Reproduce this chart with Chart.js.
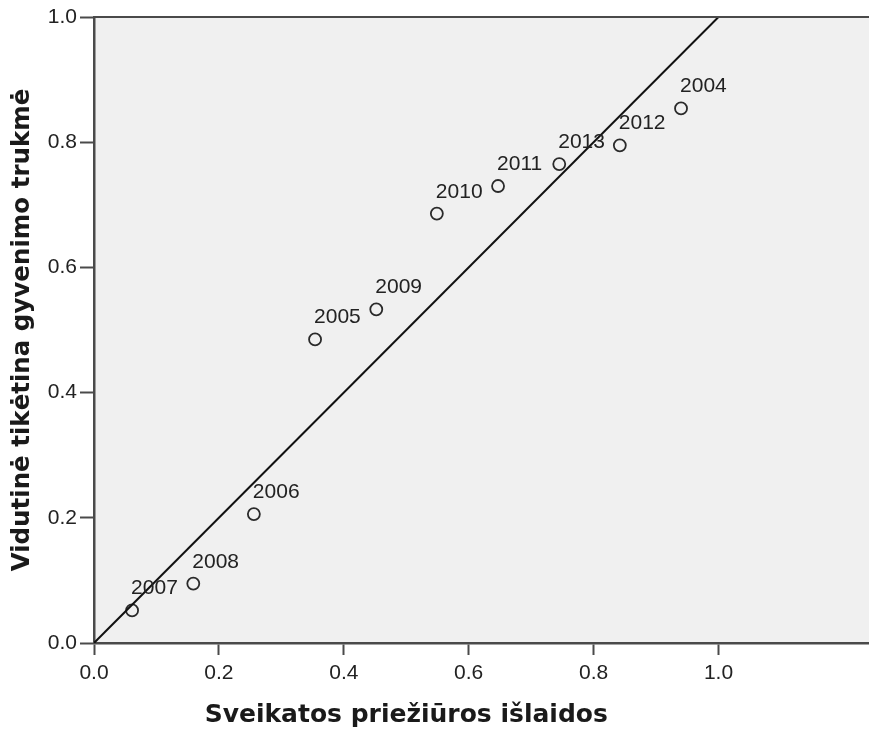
<!DOCTYPE html>
<html>
<head>
<meta charset="utf-8">
<script src="https://cdn.jsdelivr.net/npm/chart.js@4/dist/chart.umd.min.js"></script>
<style>
  html, body { margin: 0; padding: 0; background: #ffffff; overflow: hidden; }
  #wrap { width: 869px; height: 731px; }
</style>
</head>
<body>
<div id="wrap"><canvas id="c" width="869" height="731"></canvas></div>
<script>
// ---- data ----
const years   = ['2007', '2008', '2006', '2005', '2009', '2010', '2011', '2013', '2012', '2004'];
const xValues = [0.061, 0.159, 0.256, 0.354, 0.452, 0.549, 0.647, 0.745, 0.842, 0.940];
const yValues = [0.052, 0.095, 0.206, 0.485, 0.533, 0.686, 0.730, 0.765, 0.795, 0.854];
const fitLineX = [0, 1];
const fitLineY = [0, 1];
const tickValues = [0, 0.2, 0.4, 0.6, 0.8, 1.0];
const xTitle = 'Sveikatos priežiūros išlaidos';
const yTitle = 'Vidutinė tikėtina gyvenimo trukmė';

const axisColor = '#4a4a4a';
const textColor = '#222222';
const tickFont = { family: 'Liberation Sans', size: 21 };

const scatterData = xValues.map((x, i) => ({ x: x, y: yValues[i], label: years[i] }));
const lineData = fitLineX.map((x, i) => ({ x: x, y: fitLineY[i] }));

const decor = {
  id: 'decor',
  beforeDraw(chart) {
    const { ctx, chartArea: a } = chart;
    ctx.save();
    ctx.fillStyle = '#f0f0f0';
    ctx.fillRect(a.left, a.top, a.right - a.left, a.bottom - a.top);
    ctx.restore();
  },
  afterDraw(chart) {
    const { ctx, chartArea: a, scales } = chart;
    ctx.save();
    // top frame line
    ctx.strokeStyle = axisColor;
    ctx.lineWidth = 2;
    ctx.beginPath();
    ctx.moveTo(a.left, a.top);
    ctx.lineTo(a.right, a.top);
    ctx.stroke();
    // point labels
    const meta = chart.getDatasetMeta(1);
    ctx.fillStyle = textColor;
    ctx.font = '21px "Liberation Sans"';
    ctx.textAlign = 'left';
    ctx.textBaseline = 'alphabetic';
    meta.data.forEach((pt, i) => {
      ctx.fillText(years[i], pt.x - 1, pt.y - 16);
    });
    // axis titles
    ctx.fillStyle = '#1a1a1a';
    ctx.textAlign = 'center';
    ctx.textBaseline = 'middle';
    ctx.font = 'bold 25px "DejaVu Sans"';
    const xc = (scales.x.getPixelForValue(0) + scales.x.getPixelForValue(1)) / 2;
    ctx.fillText(xTitle, xc, 715);
    ctx.font = 'bold 24.5px "DejaVu Sans"';
    ctx.translate(23, (a.top + a.bottom) / 2);
    ctx.rotate(-Math.PI / 2);
    ctx.fillText(yTitle, 0, 0);
    ctx.restore();
  }
};

new Chart(document.getElementById('c'), {
  type: 'scatter',
  data: {
    datasets: [
      {
        type: 'line',
        data: lineData,
        borderColor: '#111111',
        borderWidth: 2,
        pointRadius: 0,
        fill: false,
        tension: 0
      },
      {
        data: scatterData,
        pointStyle: 'circle',
        pointRadius: 6,
        pointHoverRadius: 6,
        backgroundColor: 'rgba(0,0,0,0)',
        borderColor: '#2a2a2a',
        borderWidth: 1.8
      }
    ]
  },
  options: {
    responsive: false,
    animation: false,
    devicePixelRatio: 1,
    layout: { autoPadding: false, padding: { top: 17, right: 0, left: 0, bottom: 0 } },
    plugins: { legend: { display: false }, tooltip: { enabled: false } },
    scales: {
      x: {
        type: 'linear',
        min: 0,
        max: 1.241,
        afterBuildTicks(s) { s.ticks = tickValues.map(v => ({ value: v })); },
        afterFit(s) { s.height = 88; s.paddingRight = 0; s.paddingLeft = 0; },
        ticks: {
          callback: v => v.toFixed(1),
          font: tickFont,
          color: textColor,
          padding: 6,
          maxRotation: 0,
          autoSkip: false
        },
        grid: { drawOnChartArea: false, tickLength: 12, tickWidth: 2, tickColor: axisColor },
        border: { display: true, color: axisColor, width: 2.5 }
      },
      y: {
        type: 'linear',
        min: 0,
        max: 1,
        afterBuildTicks(s) { s.ticks = tickValues.map(v => ({ value: v })); },
        afterFit(s) { s.width = 94; },
        ticks: {
          callback: v => v.toFixed(1),
          font: tickFont,
          color: textColor,
          padding: 3,
          autoSkip: false
        },
        grid: { drawOnChartArea: false, tickLength: 14, tickWidth: 2, tickColor: axisColor },
        border: { display: true, color: axisColor, width: 2.5 }
      }
    }
  },
  plugins: [decor]
});
</script>
</body>
</html>
